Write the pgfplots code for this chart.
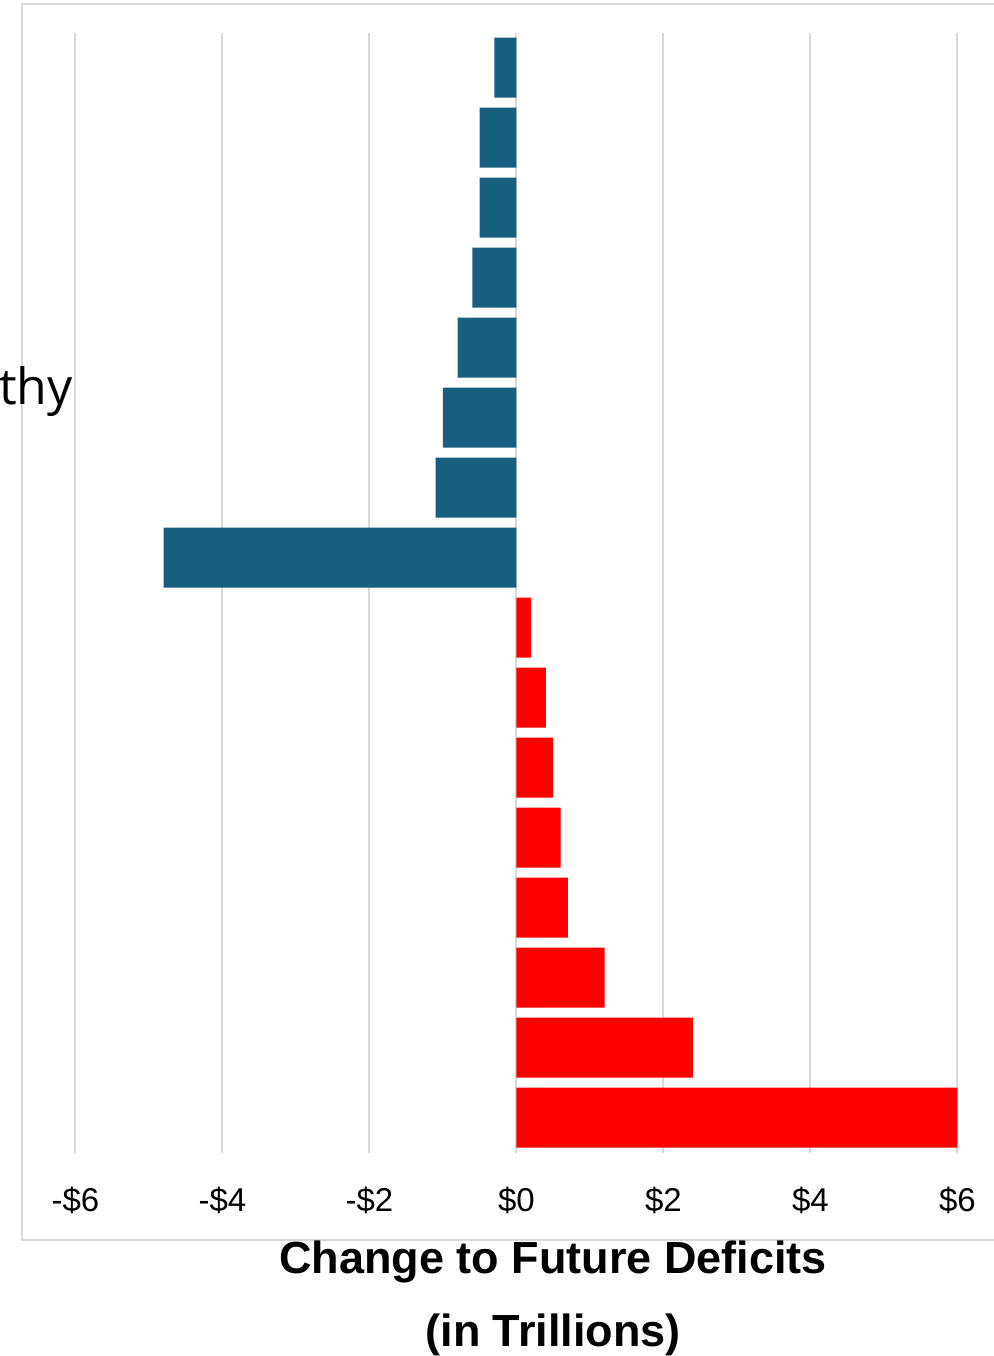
\documentclass[border=0pt]{standalone}
\usepackage{pgfplots}
\pgfplotsset{compat=1.18}
\usepackage{fontspec}
\setmainfont{Liberation Sans}
\newfontfamily\catfont{Open Sans}
\definecolor{cutblue}{RGB}{23,94,127}
\definecolor{costred}{RGB}{255,0,0}
\definecolor{gridgray}{RGB}{217,217,217}
\definecolor{framegray}{RGB}{217,217,217}

% change to future deficits, trillions of dollars (top to bottom)
\pgfplotstableread{
pos val
1 -0.3
2 -0.5
3 -0.5
4 -0.6
5 -0.8
6 -1.0
7 -1.1
8 -4.8
}\cuts
\pgfplotstableread{
pos val
9  0.2
10 0.4
11 0.5
12 0.6
13 0.7
14 1.2
15 2.4
16 6.0
}\costs

\begin{document}
\begin{tikzpicture}[x=0.5pt,y=0.5pt]
\useasboundingbox (0,0) rectangle (994,1356);
% chart frame
\draw[framegray, line width=1.25pt] (22,1356-1240) rectangle (1020,1356-4);
\begin{axis}[
  at={(37.75pt,101.75pt)}, anchor=south west,
  scale only axis, width=441pt, height=560pt,
  xmin=-6, xmax=6, ymin=0.5, ymax=16.5,
  y dir=reverse,
  axis line style={draw=none},
  major tick length=0pt,
  ytick=\empty,
  xtick={-6,-4,-2,0,2,4,6},
  xticklabels={-\$6,-\$4,-\$2,\$0,\$2,\$4,\$6},
  xticklabel style={font=\fontsize{16.5}{19}\selectfont, anchor=center, yshift=-24pt},
  xmajorgrids,
  grid style={gridgray, line width=1pt},
  xbar, bar width=30pt, bar shift=0pt,
  clip=false,
]
\addplot[fill=cutblue, draw=none] table[x=val, y=pos] {\cuts};
\addplot[fill=costred, draw=none] table[x=val, y=pos] {\costs};
\end{axis}
% category label (cut off at the left edge)
\node[anchor=base east, font=\catfont\fontsize{25}{30}\selectfont, inner sep=0pt] at (73,1356-405) {thy};
% axis title
\node[font=\bfseries\fontsize{22.5}{27}\selectfont] at (553,1356-1262) {Change to Future Deficits};
\node[font=\bfseries\fontsize{22.5}{27}\selectfont] at (553,1356-1335) {(in Trillions)};
\end{tikzpicture}
\end{document}
